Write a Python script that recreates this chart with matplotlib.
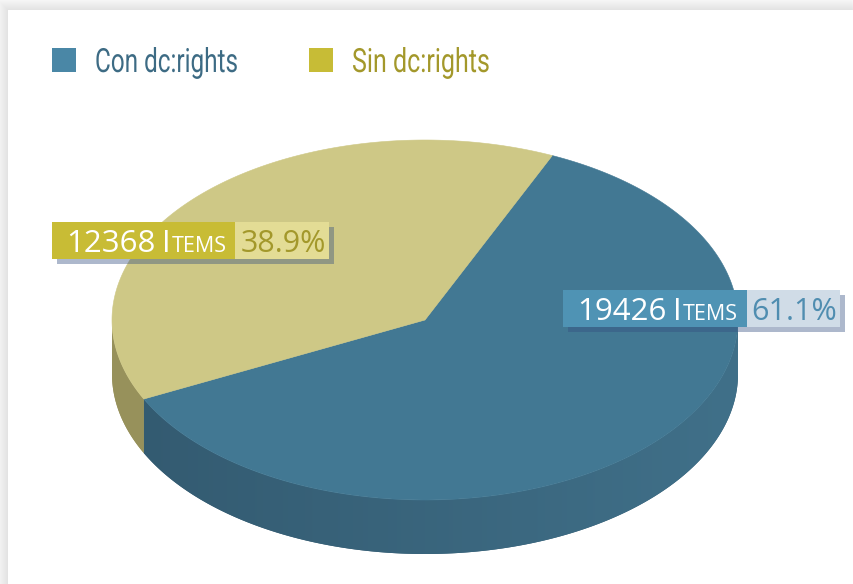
import numpy as np
import matplotlib.pyplot as plt
from matplotlib.patches import Polygon, Rectangle
from matplotlib.colors import to_rgb
from matplotlib.patheffects import AbstractPathEffect
from matplotlib.transforms import Affine2D

# ---- data ----
categories = ["Con dc:rights", "Sin dc:rights"]
items = [19426, 12368]
unit_cap, unit_small = "I", "TEMS"

# ---- style ----
top_colors = ["#427893", "#cec886"]
wall_left = ["#335a70", "#97915b"]
wall_right = ["#407089", "#9d9762"]
legend_box = ["#4a87a6", "#c7bc36"]
legend_txt = ["#3d6b84", "#a3982b"]
label_main = ["#4f93b4", "#c8bc35"]
label_pct_bg = ["#d0dce7", "#e3dc95"]
label_pct_fg = ["#4f8db0", "#a3982b"]

W, H = 854, 584
fig = plt.figure(figsize=(W / 100, H / 100), dpi=100)
fig.patch.set_facecolor("#f7f7f7")
ax = fig.add_axes([0, 0, 1, 1])
ax.axis("off")

# card with a soft shadow
for i in range(10, 0, -1):
    ax.add_patch(Rectangle((8 - i, 10 - i), W, H, facecolor="black",
                           alpha=0.009, lw=0))
ax.add_patch(Rectangle((8, 10), W, H, facecolor="white", lw=0))

# ---- 3D pie geometry ----
cx, cy, a, b, depth = 425.0, 320.0, 313.0, 180.0, 54.0
start = 66.0
total = float(sum(items))
spans = [360.0 * v / total for v in items]
# the smaller slice (index 1) starts at `start`, the larger follows it
angles = {1: (start, start + spans[1]),
          0: (start + spans[1], start + spans[1] + spans[0])}


def ell(theta_deg, dz=0.0):
    t = np.radians(theta_deg)
    return cx + a * np.cos(t), cy - b * np.sin(t) + dz


# side walls (front half only: 180..360 degrees), shaded left to right
for idx in (0, 1):
    t0, t1 = angles[idx]
    for k in (-360.0, 0.0, 360.0):
        lo, hi = max(t0 + k, 180.0), min(t1 + k, 360.0)
        if hi <= lo:
            continue
        ts = np.linspace(lo, hi, 300)
        pts = [ell(t) for t in ts] + [ell(t, depth) for t in ts[::-1]]
        wall = Polygon(pts, closed=True, facecolor=wall_left[idx],
                       edgecolor="none", lw=0)
        ax.add_patch(wall)
        xs = np.linspace(0, 1, 256)
        c0, c1 = np.array(to_rgb(wall_left[idx])), np.array(to_rgb(wall_right[idx]))
        grad = (c0[None, :] + (c1 - c0)[None, :] * xs[:, None])[None, :, :]
        im = ax.imshow(grad, extent=(cx - a, cx + a, cy + b + depth + 2, cy - 2),
                       aspect="auto", interpolation="bilinear", zorder=1.5)
        im.set_clip_path(wall)

# top face
for idx in (0, 1):
    t0, t1 = angles[idx]
    ts = np.linspace(t0, t1, 300)
    pts = [(cx, cy)] + [ell(t) for t in ts]
    ax.add_patch(Polygon(pts, closed=True, facecolor=top_colors[idx],
                         edgecolor=top_colors[idx], lw=0.4, zorder=2))

ax.set_xlim(0, W)
ax.set_ylim(H, 0)


class Squeeze(AbstractPathEffect):
    """Narrows glyph outlines horizontally around a fixed display x."""

    def __init__(self, sx, x0):
        super().__init__()
        self.sx, self.x0 = sx, x0

    def draw_path(self, renderer, gc, tpath, affine, rgbFace=None):
        t = affine + Affine2D().translate(-self.x0, 0).scale(self.sx, 1) \
            .translate(self.x0, 0)
        renderer.draw_path(gc, tpath, t, rgbFace)


fig.canvas.draw()
renderer = fig.canvas.get_renderer()
inv = ax.transData.inverted()


def right_edge(t):
    bb = t.get_window_extent(renderer)
    return inv.transform((bb.x1, bb.y0))[0]


# ---- legend ----
legend_font = ["Roboto", "DejaVu Sans"]
legend_x = [52, 309]
legend_w = [143, 138]
for i, name in enumerate(categories):
    x0 = legend_x[i]
    ax.add_patch(Rectangle((x0, 48), 24, 24, facecolor=legend_box[i], lw=0,
                           zorder=3))
    tx = x0 + 43
    t = ax.text(tx, 72, name, family=legend_font, fontsize=24,
                color=legend_txt[i], va="baseline", ha="left", zorder=3)
    bb = t.get_window_extent(renderer)
    disp_x0 = ax.transData.transform((tx, 0))[0]
    t.set_path_effects([Squeeze(legend_w[i] / bb.width, disp_x0)])

# ---- value labels ----
label_font = ["Open Sans", "DejaVu Sans"]
# box: x, y, main width, pct width, height
boxes = {1: (52, 222, 183, 94, 37), 0: (563, 290, 184, 93, 37)}
for idx in (1, 0):
    x0, y0, wm, wp, h = boxes[idx]
    pct = 100.0 * items[idx] / total
    # translucent drop shadow
    ax.add_patch(Rectangle((x0 + 5, y0 + 5), wm + wp, h,
                           facecolor=(0.2, 0.31, 0.5), alpha=0.4, lw=0,
                           zorder=3))
    ax.add_patch(Rectangle((x0, y0), wm, h, facecolor=label_main[idx], lw=0,
                           zorder=3))
    ax.add_patch(Rectangle((x0 + wm, y0), wp, h, facecolor=label_pct_bg[idx],
                           lw=0, zorder=3))
    base = y0 + h - 7
    t_num = ax.text(x0 + 14, base, f"{items[idx]}", family=label_font,
                    fontsize=22.5, color="white", va="baseline", ha="left",
                    zorder=4)
    xi = right_edge(t_num) + 7
    t_i = ax.text(xi, base, unit_cap, family=label_font, fontsize=22.5,
                  color="white", va="baseline", ha="left", zorder=4)
    xs = right_edge(t_i) + 1
    ax.text(xs, base, unit_small, family=label_font, fontsize=15.5,
            color="white", va="baseline", ha="left", zorder=4)
    ax.text(x0 + wm + wp / 2 + 1, base, f"{pct:.1f}%", family=label_font,
            fontsize=22, color=label_pct_fg[idx], va="baseline",
            ha="center", zorder=4)

fig.savefig("out.png", dpi=100, facecolor=fig.get_facecolor())
